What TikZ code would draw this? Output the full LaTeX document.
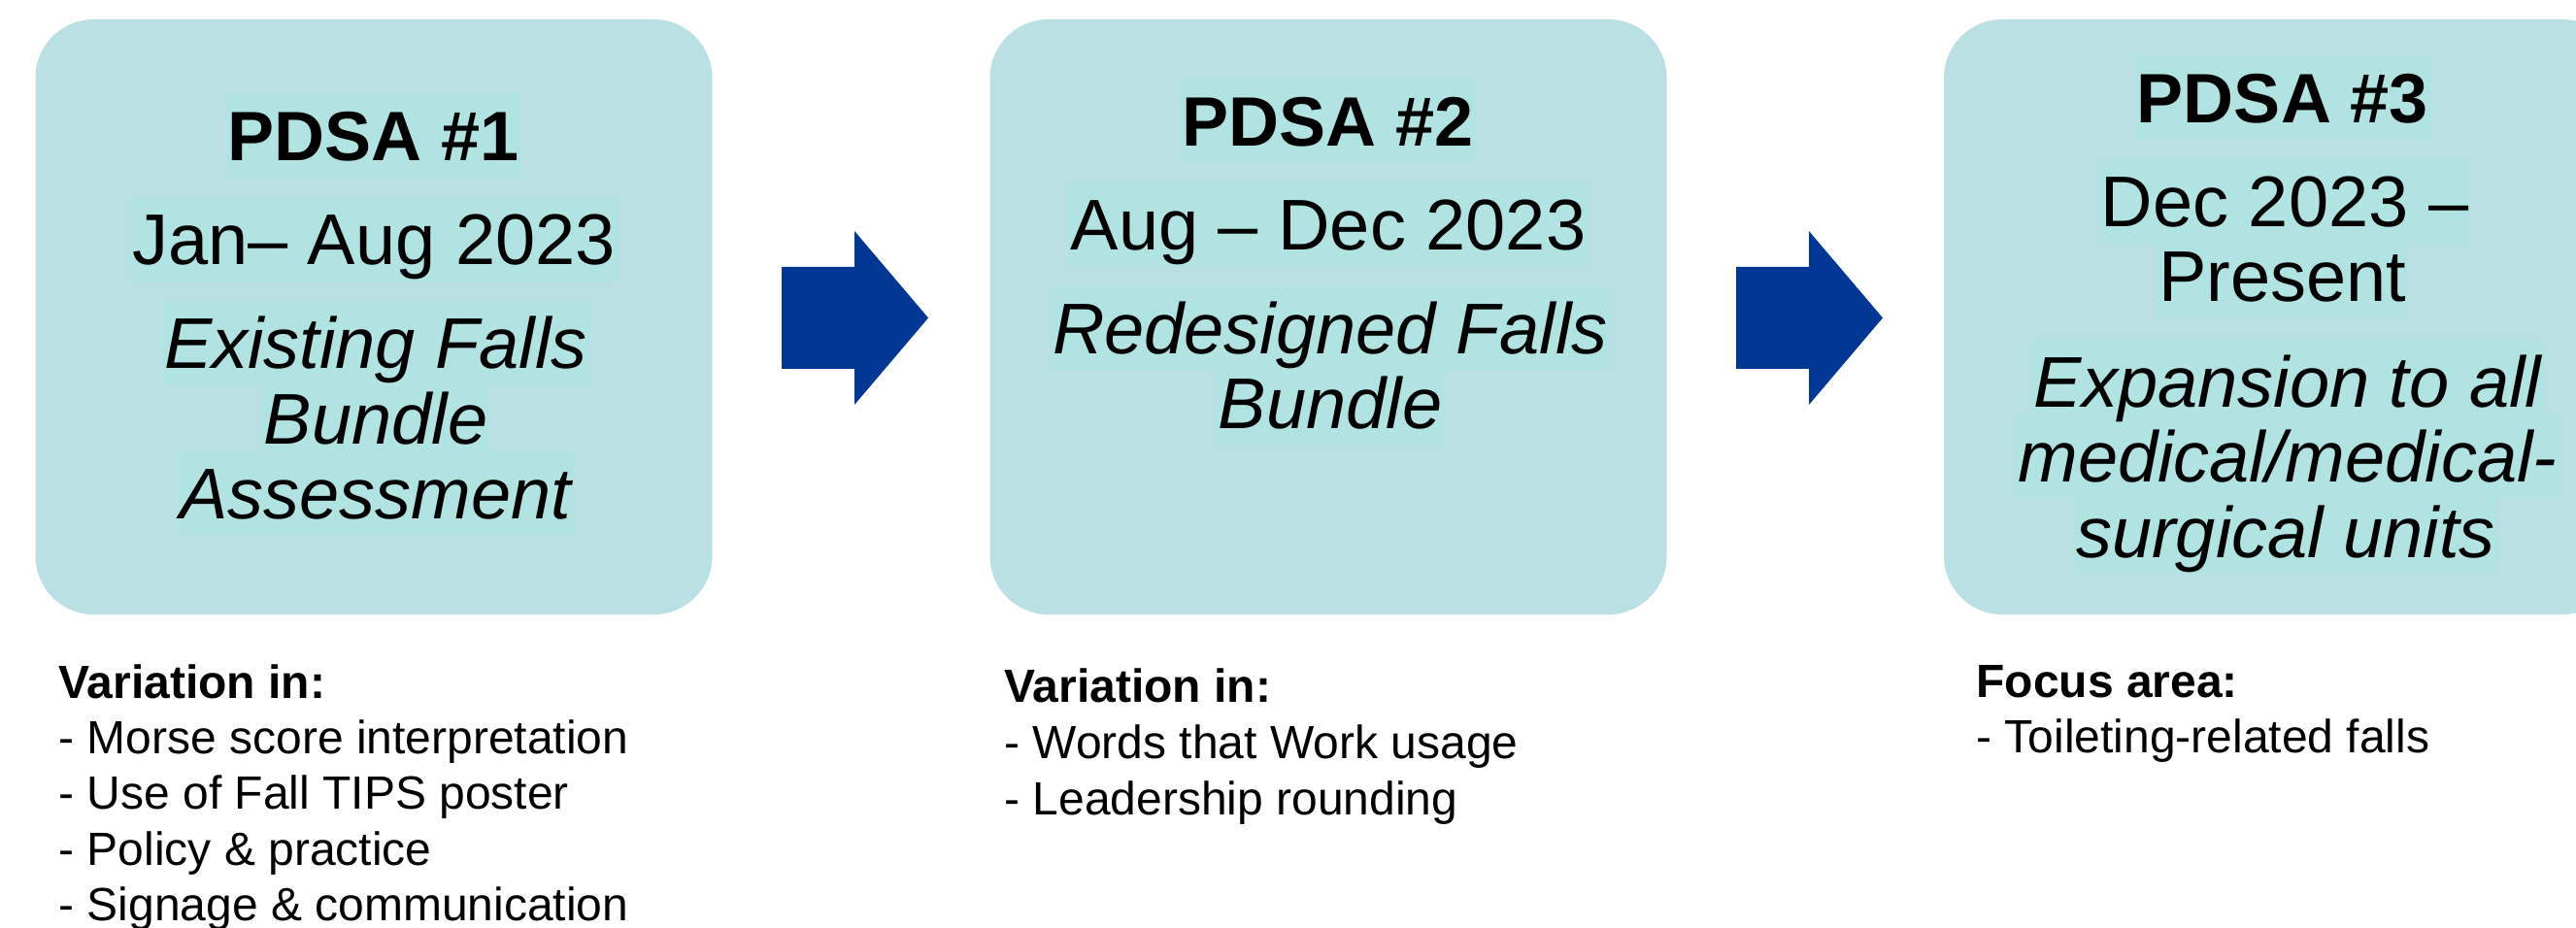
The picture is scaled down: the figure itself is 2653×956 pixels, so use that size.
\documentclass[tikz,border=0pt]{standalone}
\usepackage{fontspec}
\setmainfont{Liberation Sans}
\definecolor{boxfill}{RGB}{186,224,227}
\definecolor{hlfill}{RGB}{178,227,227}
\definecolor{arrowblue}{RGB}{2,56,148}
\pgfdeclarelayer{boxes}
\pgfdeclarelayer{hl}
\pgfsetlayers{boxes,hl,main}
\tikzset{
  pdsabox/.style={fill=boxfill, draw=none, rounded corners=30pt, minimum width=348.5pt, minimum height=306.5pt, inner sep=0pt},
  boxline/.style={anchor=base, inner xsep=1pt, inner ysep=0pt, text height=35pt, text depth=8.5pt, font=\fontsize{37}{44}\selectfont},
  boxtitle/.style={boxline, font=\fontsize{36}{43}\selectfont\bfseries},
  boxital/.style={boxline, font=\fontsize{37}{44}\selectfont\itshape},
  hlrect/.style={fill=hlfill, draw=none},
  noteline/.style={anchor=base west, inner sep=0pt, font=\fontsize{24}{29}\selectfont},
  notehead/.style={noteline, font=\fontsize{24}{29}\selectfont\bfseries},
  blockarr/.pic={\fill[arrowblue] (0,-52.5) -- (75,-52.5) -- (75,-89.5) -- (151,0) -- (75,89.5) -- (75,52.5) -- (0,52.5) -- cycle;}
}
\begin{document}
\begin{tikzpicture}[x=0.5pt, y=-0.5pt]
\useasboundingbox (0,0) rectangle (2653,956);
\clip (0,0) rectangle (2653,956);
% boxes
\begin{pgfonlayer}{boxes}
\node[pdsabox] (b1) at (385,326.5) {};
\node[pdsabox] (b2) at (1368,326.5) {};
\node[pdsabox] (b3) at (2350.5,326.5) {};
\end{pgfonlayer}
% arrows
\pic at (805,327.5) {blockarr};
\pic at (1788,327.5) {blockarr};
% box 1 text
\node[boxtitle] (t1a) at (385,166) {PDSA \#1};
\node[boxline] (t1b) at (385,273) {Jan– Aug 2023};
\node[boxital] (t1c) at (387,380) {Existing Falls};
\node[boxital] (t1d) at (387,458) {Bundle};
\node[boxital] (t1e) at (387,534) {Assessment};
% box 2 text
\node[boxtitle] (t2a) at (1368,151) {PDSA \#2};
\node[boxline] (t2b) at (1368,258) {Aug – Dec 2023};
\node[boxital] (t2c) at (1370,365) {Redesigned Falls};
\node[boxital] (t2d) at (1370,442) {Bundle};
% box 3 text
\node[boxtitle] (t3a) at (2351,127) {PDSA \#3};
\node[boxline] (t3b) at (2353,234) {Dec 2023 –};
\node[boxline] (t3c) at (2351,311) {Present};
\node[boxital] (t3d) at (2356,420) {Expansion to all};
\node[boxital] (t3e) at (2356,496) {medical/medical-};
\node[boxital] (t3f) at (2354,574) {surgical units};
% text highlights, under the text
\begin{pgfonlayer}{hl}
\foreach \t in {t1a,t1b,t1c,t1d,t1e,t2a,t2b,t2c,t2d,t3a,t3b,t3c,t3d,t3e,t3f}
  \fill[hlrect] (\t.south west) rectangle (\t.north east);
\end{pgfonlayer}
% notes column 1
\node[notehead] (n1a) at (60,719) {Variation in:};
\node[noteline] (n1b) at (60,776) {- Morse score interpretation};
\node[noteline] (n1c) at (60,833) {- Use of Fall TIPS poster};
\node[noteline] (n1d) at (60,891) {- Policy \& practice};
\node[noteline] (n1e) at (60,948) {- Signage \& communication};
% notes column 2
\node[notehead] (n2a) at (1034,723) {Variation in:};
\node[noteline] (n2b) at (1034,781) {- Words that Work usage};
\node[noteline] (n2c) at (1034,839) {- Leadership rounding};
% notes column 3
\node[notehead] (n3a) at (2035,718) {Focus area:};
\node[noteline] (n3b) at (2035,775) {- Toileting-related falls};
\end{tikzpicture}
\end{document}
